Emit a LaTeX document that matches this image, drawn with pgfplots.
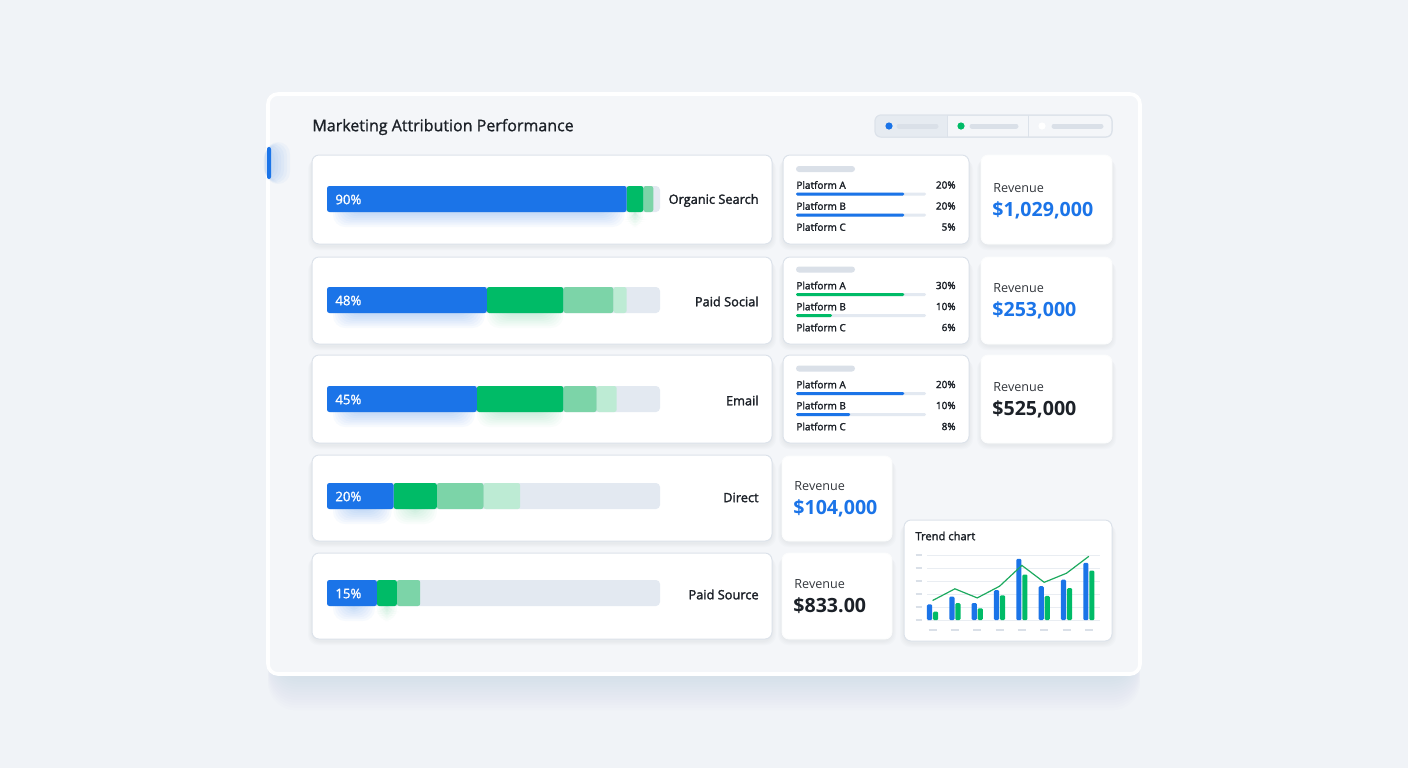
\documentclass[border=0pt]{standalone}
\usepackage{pgfplots}
\pgfplotsset{compat=1.18}
\usepackage{fontspec}
\setmainfont{Open Sans}
\newfontfamily\medfont{Open Sans}[FakeBold=2]
\newfontfamily\lightmed{Open Sans}[FakeBold=1.2]

\definecolor{bg}{HTML}{F0F3F7}
\definecolor{panel}{HTML}{F4F6F9}
\definecolor{cardline}{HTML}{DCE2EA}
\definecolor{mblue}{HTML}{1B74E8}
\definecolor{mgreen}{HTML}{00BB67}
\definecolor{mgreenmid}{HTML}{7CD4A8}
\definecolor{mgreenlt}{HTML}{BDEBD4}
\definecolor{linegreen}{HTML}{1DAA5F}
\definecolor{track}{HTML}{E3E9F1}
\definecolor{ink}{HTML}{1C2128}
\definecolor{ph}{HTML}{DAE0E8}
\definecolor{gridc}{HTML}{E9EDF2}
\definecolor{segsel}{HTML}{E6EBF1}
\definecolor{shadowc}{HTML}{5A6B85}

\newcommand\titlefont{\lightmed\fontsize{8pt}{10pt}\selectfont}
\newcommand\rowfont{\medfont\fontsize{6.4pt}{7.5pt}\selectfont}
\newcommand\pctfont{\lightmed\fontsize{6.6pt}{7.5pt}\selectfont}
\newcommand\platfont{\medfont\fontsize{5pt}{6pt}\selectfont}
\newcommand\revlabfont{\fontsize{6.3pt}{7.5pt}\selectfont}
\newcommand\revvalfont{\bfseries\fontsize{9.8pt}{11pt}\selectfont}
\newcommand\trendfont{\medfont\fontsize{5.6pt}{6.5pt}\selectfont}

\pgfplotsset{
  attr/.style={xbar stacked, scale only axis, width=166.5pt, height=13pt,
    xmin=0, xmax=100, ymin=-0.5, ymax=0.5, bar width=13pt,
    hide axis, clip=false, anchor=west,
    every axis plot/.append style={draw=none, rounded corners=1.2pt}},
  platbars/.style={xbar, scale only axis, width=65pt, height=10.5pt,
    xmin=0, ymin=0, ymax=1, bar width=1.5pt, bar shift=0pt,
    hide axis, clip=false, anchor=south west,
    every axis plot/.append style={draw=none, rounded corners=0.7pt}},
}

% soft shadow behind a card
\newcommand{\cardshadow}[4]{%
  \foreach \j in {1,...,4}{\fill[shadowc, opacity=0.018, rounded corners=5pt]
    ({#1-\j},{#2+\j}) rectangle ({#3+\j},{#4+\j+2});}}
\newcommand{\card}[4]{%
  \draw[fill=white, draw=cardline, line width=0.5pt, rounded corners=3.5pt]
    (#1,#2) rectangle (#3,#4);}
% coloured glow under a bar segment
\newcommand{\glow}[5]{%
  \foreach \j in {0,...,8}{\fill[#1, opacity=#5, rounded corners=6pt]
    ({#2+\j*2},{#4}) rectangle ({#3-\j*2},{#4+28-\j*1.8});}}

% one attribution row: card top, card bottom, bar centre, blue, green, mid, pale, channel
\newcommand{\attrrow}[8]{%
  \cardshadow{312}{#1}{772}{#2}
  \card{312}{#1}{772}{#2}
  \fill[track, rounded corners=2pt] (327,{#3-13}) rectangle (660,{#3+13});
  \glow{mblue}{333}{327+3.33*#4-2}{#3}{0.03}
  \glow{mgreen}{327+3.33*#4}{327+3.33*(#4+#5)}{#3}{0.022}
  \coordinate (rb) at (327,#3);
  \begin{axis}[attr, at={(rb)}]
    \addplot[fill=mblue] coordinates {(#4,0)};
    \addplot[fill=mgreen] coordinates {(#5,0)};
    \addplot[fill=mgreenmid] coordinates {(#6,0)};
    \addplot[fill=mgreenlt] coordinates {(#7,0)};
  \end{axis}
  \node[anchor=west, text=white, font=\pctfont, inner sep=0pt] at (335,{#3+0.5}) {#4\%};
  \node[anchor=east, text=ink, font=\rowfont, inner sep=0pt] at (759,{#3+1.5}) {#8};
}

% platform split card: card top, card bottom, content top, A, B, C, colour, scale max
\newcommand{\platcard}[8]{%
  \cardshadow{783}{#1}{969}{#2}
  \card{783}{#1}{969}{#2}
  \fill[ph, rounded corners=1.5pt] (796,{#3+11}) rectangle (855,{#3+17});
  \node[anchor=west, text=ink, font=\platfont, inner sep=0pt] at (796,{#3+30}) {Platform A};
  \node[anchor=east, text=ink, font=\platfont, inner sep=0pt] at (956,{#3+30}) {#4\%};
  \node[anchor=west, text=ink, font=\platfont, inner sep=0pt] at (796,{#3+51}) {Platform B};
  \node[anchor=east, text=ink, font=\platfont, inner sep=0pt] at (956,{#3+51}) {#5\%};
  \node[anchor=west, text=ink, font=\platfont, inner sep=0pt] at (796,{#3+72}) {Platform C};
  \node[anchor=east, text=ink, font=\platfont, inner sep=0pt] at (956,{#3+72}) {#6\%};
  \coordinate (pb) at (796,{#3+60});
  \begin{axis}[platbars, at={(pb)}, xmax=#8]
    \addplot[fill=track] coordinates {(#8,0) (#8,1)};
    \addplot[fill=#7] coordinates {(#5,0) (#4,1)};
  \end{axis}
}

% revenue tile: x1, y1, x2, y2, label y, value y, value, colour
\newcommand{\revcard}[8]{%
  \cardshadow{#1}{#2}{#3}{#4}
  \draw[fill=white, draw=white!92!cardline, line width=0.4pt, rounded corners=3.5pt]
    (#1,#2) rectangle (#3,#4);
  \node[anchor=west, text=ink!90, font=\revlabfont, inner sep=0pt] at ({#1+12},{#5+0.5}) {Revenue};
  \node[anchor=west, text=#8, font=\revvalfont, inner sep=0pt] at ({#1+11},{#6+1}) {#7};
}

\begin{document}
\begin{tikzpicture}[x=0.5pt, y=-0.5pt]
  % page and panel
  \fill[bg] (0,0) rectangle (1408,768);
  \foreach \j in {1,...,14}{\fill[shadowc, opacity=0.006, rounded corners=14pt]
    ({272-\j*0.3},{110+\j*1.5}) rectangle ({1136+\j*0.3},{674+\j*2.6});}
  \draw[fill=panel, draw=white, line width=1.8pt, rounded corners=5pt]
    (268,94) rectangle (1140,674);

  % active-section marker
  \foreach \j in {0,...,5}{\fill[mblue, opacity=0.035, rounded corners=6pt]
    ({266-\j*0.5},{142+\j*1}) rectangle ({290-\j*3},{184-\j*1});}
  \fill[mblue, rounded corners=1pt] (267,147) rectangle (271,179);

  \node[anchor=west, text=ink, font=\titlefont, inner sep=0pt] at (312,127) {Marketing Attribution Performance};

  % segmented toggle
  \draw[fill=panel, draw=cardline, line width=0.5pt, rounded corners=3pt] (875,115) rectangle (1112,137);
  \begin{scope}
    \clip[rounded corners=3pt] (875,115) rectangle (1112,137);
    \fill[segsel] (875,115) rectangle (947,137);
  \end{scope}
  \draw[cardline, line width=0.5pt, rounded corners=3pt] (875,115) rectangle (1112,137);
  \draw[cardline, line width=0.5pt] (947,115) -- (947,137) (1028,115) -- (1028,137);
  \fill[mblue] (889,126) circle (1.8pt);
  \fill[mgreen] (961,126) circle (1.8pt);
  \fill[white] (1042,126) circle (1.8pt);
  \draw[ph, line width=2.5pt, line cap=round] (899,126) -- (936,126) (972,126) -- (1016,126) (1054,126) -- (1101,126);

  % channel rows
  \attrrow{155}{244}{199}{90}{5}{3}{0}{Organic Search}
  \attrrow{257}{344}{300}{48}{23}{15}{4}{Paid Social}
  \attrrow{355}{443}{399}{45}{26}{10}{6}{Email}
  \attrrow{455}{541}{496}{20}{13}{14}{11}{Direct}
  \attrrow{553}{639}{593}{15}{6}{7}{0}{Paid Source}

  % platform splits
  \platcard{155}{244}{155}{20}{20}{5}{mblue}{24}
  \platcard{257}{344}{255.5}{30}{10}{6}{mgreen}{36}
  \platcard{355}{443}{354.5}{20}{10}{8}{mblue}{24}

  % revenue tiles
  \revcard{981}{155}{1112}{244}{188}{209}{\$1,029,000}{mblue}
  \revcard{981}{257}{1112}{344}{288}{309}{\$253,000}{mblue}
  \revcard{981}{355}{1112}{443}{387}{408}{\$525,000}{ink}
  \revcard{782}{456}{892}{541}{486}{507}{\$104,000}{mblue}
  \revcard{782}{553}{892}{639}{584}{605}{\$833.00}{ink}

  % trend chart
  \cardshadow{904}{520}{1112}{641}
  \card{904}{520}{1112}{641}
  \node[anchor=west, text=ink, font=\trendfont, inner sep=0pt] at (915,536) {Trend chart};
  \coordinate (tc) at (927,620);
  \begin{axis}[at={(tc)}, anchor=south west, scale only axis,
      width=86.5pt, height=32.5pt,
      xmin=-0.25, xmax=7.5, ymin=0, ymax=50,
      ybar, bar width=2.6pt,
      axis line style={draw=none}, tick style={draw=none},
      ymajorgrids, grid style={gridc, line width=0.5pt},
      ytick={0,10,...,50}, xtick={0,...,7},
      yticklabel={\textcolor{ph}{\rule{3pt}{1pt}}},
      xticklabel={\textcolor{ph}{\rule{4pt}{1pt}}},
      yticklabel style={inner sep=0pt, anchor=east, xshift=-2.5pt},
      xticklabel style={inner sep=0pt, anchor=north, yshift=0pt},
      clip=false]
    \addplot[fill=mblue, draw=none, bar shift=-1.5pt, rounded corners=0.6pt]
      coordinates {(0,12) (1,18) (2,13) (3,23) (4,47) (5,26) (6,31) (7,44)};
    \addplot[fill=mgreen, draw=none, bar shift=1.5pt, rounded corners=0.6pt]
      coordinates {(0,6.5) (1,13) (2,9) (3,19) (4,35) (5,18.5) (6,24.5) (7,38)};
    \addplot[sharp plot, linegreen, line width=0.6pt, mark=none]
      coordinates {(0,15) (1,24) (2,17) (3,26) (4,42) (5,29) (6,36) (7,49)};
  \end{axis}
\end{tikzpicture}
\end{document}
